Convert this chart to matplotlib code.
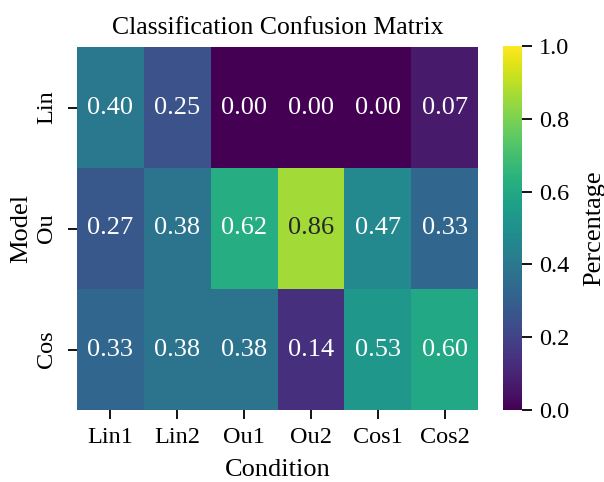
import matplotlib
matplotlib.use("Agg")
import matplotlib.pyplot as plt
import seaborn as sns
import numpy as np

rows = ["Lin", "Ou", "Cos"]
cols = ["Lin1", "Lin2", "Ou1", "Ou2", "Cos1", "Cos2"]
row_lin = [0.40, 0.25, 0.00, 0.00, 0.00, 0.07]
row_ou = [0.27, 0.38, 0.62, 0.86, 0.47, 0.33]
row_cos = [0.33, 0.38, 0.38, 0.14, 0.53, 0.60]
data = np.array([row_lin, row_ou, row_cos])

plt.rcParams['font.family'] = ['Liberation Serif', 'DejaVu Serif']
plt.rcParams['font.size'] = 17

fig = plt.figure(figsize=(6.04, 4.82), dpi=100)
W, H = 604, 482
def rect(x0, y0, x1, y1):
    return [x0 / W, 1 - y1 / H, (x1 - x0) / W, (y1 - y0) / H]

ax = fig.add_axes(rect(77, 47, 478, 410))
cax = fig.add_axes(rect(503, 46, 522, 410))

sns.heatmap(data, ax=ax, cbar_ax=cax, cmap="viridis", vmin=0, vmax=1,
            annot=True, fmt=".2f", annot_kws={"size": 19},
            xticklabels=cols, yticklabels=rows,
            cbar_kws={"label": "Percentage"})

ax.set_title("Classification Confusion Matrix", fontsize=18.5, pad=9)
ax.set_xlabel("Condition", fontsize=19, labelpad=8)
ax.set_ylabel("Model", fontsize=19, labelpad=2.5)
ax.tick_params(axis='x', labelsize=17.5, length=6.5, width=1.3, pad=6)
ax.tick_params(axis='y', labelsize=17.5, length=6.5, width=1.3, pad=8)
plt.setp(ax.get_yticklabels(), rotation=90, va='center')
cax.tick_params(labelsize=17.5, length=7, width=1.3, pad=5)
cax.set_ylabel("Percentage", fontsize=19, labelpad=10)

fig.savefig("out.png", dpi=100)
